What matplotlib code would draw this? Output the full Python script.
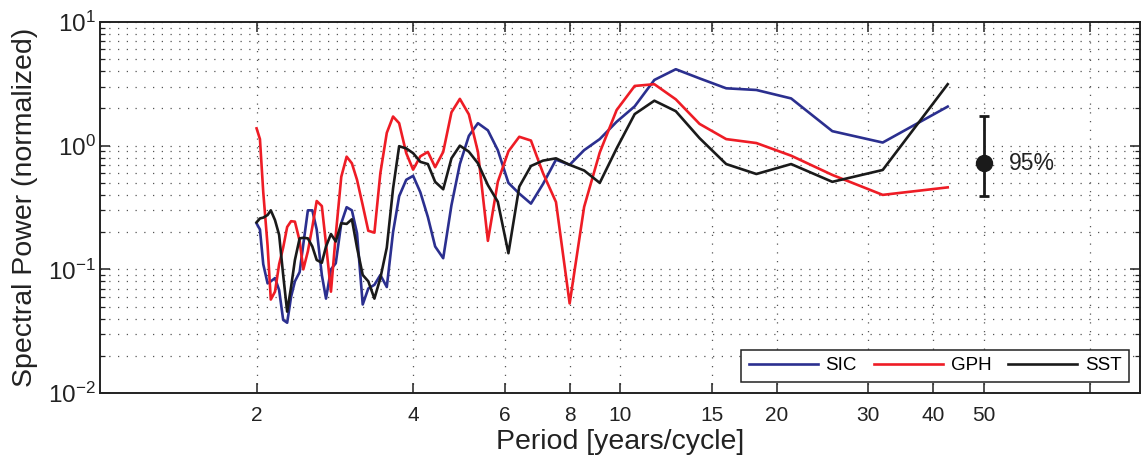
import numpy as np
import matplotlib
import matplotlib.pyplot as plt
from matplotlib.ticker import FixedLocator, NullLocator, LogLocator, NullFormatter

matplotlib.use("Agg")

# Period axis (years/cycle) and spectral power per series.
PERIOD = [2.00, 2.03, 2.06, 2.10, 2.13, 2.17, 2.21, 2.25, 2.29, 2.33,
          2.37, 2.42, 2.46, 2.51, 2.56, 2.61, 2.67, 2.72, 2.78, 2.84,
          2.91, 2.98, 3.05, 3.12, 3.20, 3.28, 3.37, 3.46, 3.56, 3.66,
          3.76, 3.88, 4.00, 4.13, 4.27, 4.41, 4.57, 4.74, 4.92, 5.12,
          5.33, 5.57, 5.82, 6.10, 6.40, 6.74, 7.11, 7.53, 8.00, 8.53,
          9.14, 9.85, 10.67, 11.64, 12.80, 14.22, 16.00, 18.29, 21.33, 25.60,
          32.00, 42.67]

SIC = [0.235, 0.21, 0.11, 0.077, 0.08, 0.085, 0.068, 0.039, 0.037, 0.06,
       0.08, 0.095, 0.16, 0.30, 0.30, 0.21, 0.09, 0.058, 0.10, 0.112,
       0.236, 0.318, 0.30, 0.196, 0.052, 0.07, 0.075, 0.09, 0.072, 0.20,
       0.39, 0.53, 0.57, 0.42, 0.265, 0.153, 0.123, 0.33, 0.71, 1.2,
       1.52, 1.33, 0.92, 0.50, 0.41, 0.34, 0.49, 0.77, 0.70, 0.92,
       1.13, 1.56, 2.08, 3.40, 4.15, 3.5, 2.91, 2.82, 2.41, 1.31,
       1.06, 2.07]

GPH = [1.38, 1.13, 0.42, 0.155, 0.057, 0.066, 0.11, 0.15, 0.22, 0.245,
       0.243, 0.17, 0.10, 0.14, 0.22, 0.357, 0.325, 0.16, 0.066, 0.19,
       0.56, 0.815, 0.72, 0.53, 0.33, 0.205, 0.198, 0.60, 1.27, 1.72,
       1.52, 0.87, 0.64, 0.82, 0.89, 0.67, 0.89, 1.86, 2.39, 1.79,
       0.89, 0.17, 0.51, 0.90, 1.18, 1.10, 0.60, 0.35, 0.053, 0.32,
       0.88, 1.94, 3.04, 3.14, 2.37, 1.50, 1.13, 1.05, 0.83, 0.58,
       0.40, 0.46]

SST = [0.24, 0.258, 0.262, 0.275, 0.30, 0.25, 0.19, 0.09, 0.0455, 0.072,
       0.119, 0.178, 0.18, 0.178, 0.153, 0.119, 0.113, 0.153, 0.193, 0.168,
       0.236, 0.233, 0.254, 0.15, 0.09, 0.08, 0.058, 0.085, 0.15, 0.45,
       0.99, 0.95, 0.87, 0.74, 0.71, 0.51, 0.444, 0.79, 1.0, 0.894,
       0.72, 0.48, 0.352, 0.135, 0.466, 0.685, 0.757, 0.79, 0.70, 0.63,
       0.50, 0.95, 1.80, 2.31, 1.90, 1.15, 0.71, 0.59, 0.71, 0.51,
       0.636, 3.14]

# 95% confidence bar
CI_PERIOD = 50
CI_CENTER = 0.72
CI_LOW = 0.39
CI_HIGH = 1.74

XTICKS = [2, 4, 6, 8, 10, 15, 20, 30, 40, 50, 80]
XTICKLABELS = ["2", "4", "6", "8", "10", "15", "20", "30", "40", "50", ""]

COLORS = {
    "SIC": "#2b2f8f",
    "GPH": "#ee1c25",
    "SST": "#1a1a1a",
}


def InitializeMatplotLib():
    matplotlib.rc("font", family=["Liberation Sans", "DejaVu Sans"], size=14)
    matplotlib.rc("mathtext", fontset="custom", rm="Liberation Sans",
                  it="Liberation Sans:italic", default="regular")
    matplotlib.rc("axes", linewidth=1.4, edgecolor="#222222")


def PlotSpectrum():
    fig = plt.figure(figsize=(11.46, 4.65), dpi=100)
    ax = fig.add_axes([0.0873, 0.1548, 0.9075, 0.7979])

    dots = (0, (1, 6))
    ax.grid(True, which="major", axis="both", linestyle=dots, color="#555555", linewidth=0.9)
    ax.grid(True, which="minor", axis="y", linestyle=dots, color="#555555", linewidth=0.9)

    ax.plot(PERIOD, SIC, color=COLORS["SIC"], lw=1.9, label="SIC")
    ax.plot(PERIOD, GPH, color=COLORS["GPH"], lw=1.9, label="GPH")
    ax.plot(PERIOD, SST, color=COLORS["SST"], lw=1.9, label="SST")

    ax.errorbar([CI_PERIOD], [CI_CENTER],
                yerr=[[CI_CENTER - CI_LOW], [CI_HIGH - CI_CENTER]],
                fmt="o", color="#1a1a1a", ms=11.5, elinewidth=2.0, capsize=3.6, capthick=2.0)
    ax.text(56, CI_CENTER, "95%", va="center", ha="left", fontsize=16.5, color="#222222")

    ax.set_xscale("log")
    ax.set_yscale("log")
    ax.set_xlim(1, 100)
    ax.set_ylim(1e-2, 1e1)

    ax.xaxis.set_major_locator(FixedLocator(XTICKS))
    ax.set_xticklabels(XTICKLABELS)
    ax.xaxis.set_minor_locator(NullLocator())
    ax.yaxis.set_major_locator(LogLocator(base=10, numticks=10))
    ax.yaxis.set_minor_locator(LogLocator(base=10, subs=np.arange(2, 10), numticks=10))
    ax.yaxis.set_minor_formatter(NullFormatter())

    ax.tick_params(which="both", direction="in", top=True, right=True, colors="#222222")
    ax.tick_params(which="major", length=7, width=1.1)
    ax.tick_params(which="minor", length=3.5, width=0.9)
    ax.tick_params(axis="x", which="major", labelsize=15, pad=9)
    ax.tick_params(axis="y", which="major", labelsize=17.5, pad=3)

    ax.set_xlabel("Period [years/cycle]", fontsize=20.5, color="#222222", labelpad=3)
    ax.set_ylabel("Spectral Power (normalized)", fontsize=20.5, color="#222222", labelpad=7)

    leg = ax.legend(loc="lower right", bbox_to_anchor=(0.9895, 0.03), ncol=3,
                    frameon=True, fancybox=False, borderaxespad=0, fontsize=13.5,
                    handlelength=3.7, handletextpad=0.4, columnspacing=0.9,
                    borderpad=0.4)
    leg.get_frame().set_edgecolor("#222222")
    leg.get_frame().set_linewidth(1.1)
    leg.get_frame().set_alpha(1)

    fig.savefig("out.png", dpi=100)


# Main.
if __name__ == "__main__":
    InitializeMatplotLib()
    PlotSpectrum()
